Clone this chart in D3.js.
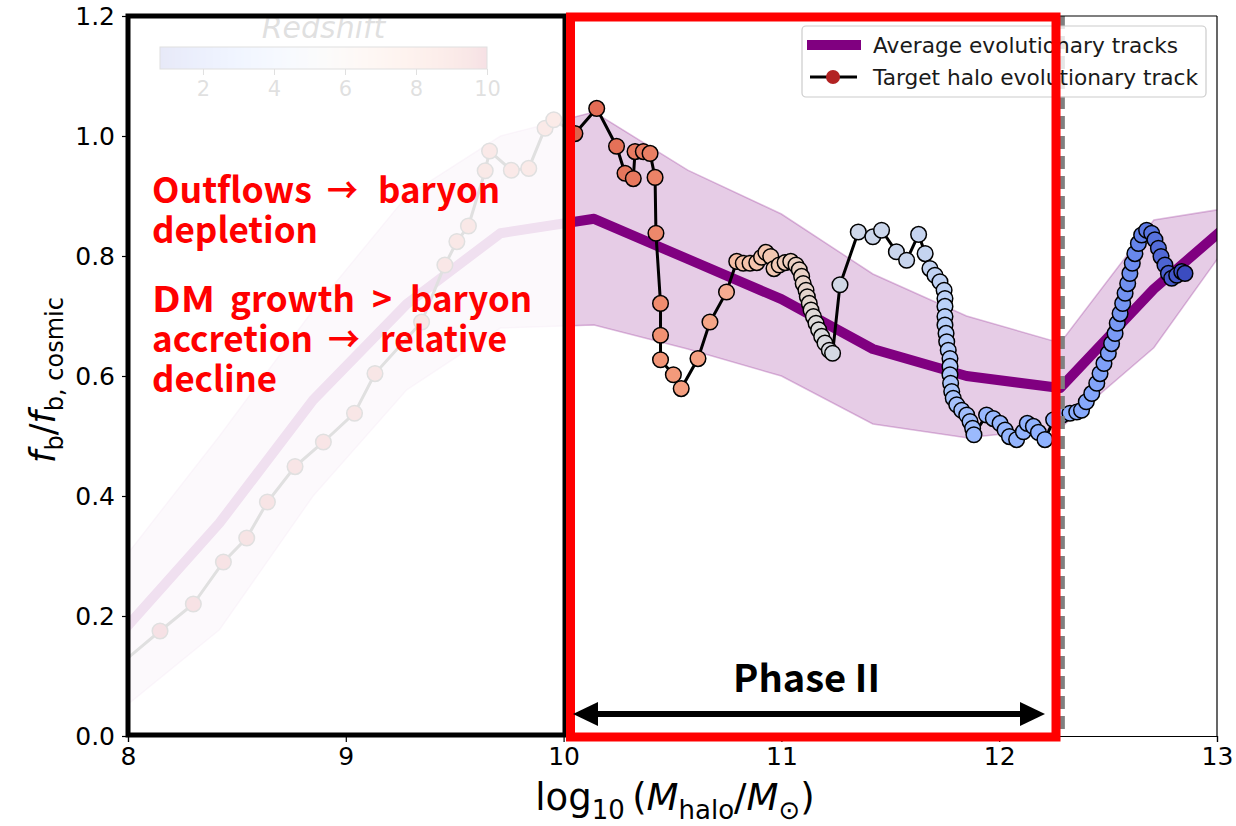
<!DOCTYPE html>
<html><head><meta charset="utf-8">
<script src="https://cdn.jsdelivr.net/npm/d3@7"></script>
<style>body{margin:0;background:#fff}svg{display:block}</style>
</head><body><svg id="c" width="1236" height="826"></svg>
<script>
// ---------- data ----------
const avgX  = [7.99, 8.42, 8.85, 9.28, 9.71, 10.14, 10.57, 11.0, 11.42, 11.85, 12.28, 12.71, 13.14];
const avgY  = [0.18, 0.355, 0.56, 0.72, 0.838, 0.862, 0.795, 0.728, 0.645, 0.60, 0.58, 0.745, 0.88];
const avgLo = [0.05, 0.177, 0.40, 0.577, 0.68, 0.685, 0.645, 0.60, 0.52, 0.497, 0.513, 0.647, 0.865];
const avgHi = [0.30, 0.50, 0.71, 0.90, 1.00, 1.04, 0.943, 0.87, 0.77, 0.70, 0.655, 0.86, 0.885];

const trackX = [
 7.95, 8.147, 8.30, 8.438, 8.545, 8.64, 8.767, 8.897, 9.04, 9.134, 9.348, 9.455, 9.51, 9.563, 9.64, 9.66, 9.76, 9.84, 9.915, 9.955,
 10.052, 10.152, 10.243, 10.282, 10.32, 10.328, 10.366, 10.397, 10.42, 10.424, 10.445, 10.445, 10.445, 10.504, 10.54, 10.617, 10.672, 10.748,
 10.795, 10.825, 10.856, 10.887, 10.909, 10.929, 10.951, 10.966, 10.99, 11.017, 11.043, 11.067, 11.082, 11.093, 11.1, 11.113, 11.119, 11.128, 11.136, 11.147, 11.159, 11.171, 11.185, 11.2, 11.22, 11.235,
 11.269, 11.353, 11.42, 11.46, 11.528, 11.575, 11.63, 11.66,
 11.682, 11.705, 11.728, 11.747, 11.751, 11.751, 11.751, 11.751, 11.756, 11.759, 11.766, 11.774, 11.774, 11.774, 11.777, 11.782, 11.789, 11.805, 11.828, 11.851, 11.866, 11.878, 11.884,
 11.942, 11.973, 12.004, 12.027, 12.047, 12.08, 12.111, 12.129, 12.157, 12.18, 12.21, 12.25, 12.29, 12.325, 12.356, 12.378,
 12.4, 12.425, 12.448, 12.463, 12.481, 12.501, 12.516, 12.532, 12.542, 12.555, 12.567, 12.578, 12.59, 12.6, 12.611, 12.623, 12.639, 12.654, 12.677, 12.7, 12.715, 12.731, 12.743, 12.761, 12.777, 12.792, 12.815, 12.838, 12.853
];
const trackY = [
 0.115, 0.175, 0.22, 0.29, 0.33, 0.39, 0.449, 0.49, 0.538, 0.604, 0.69, 0.785, 0.824, 0.85, 0.942, 0.975, 0.943, 0.946, 1.013, 1.027,
 1.004, 1.046, 0.983, 0.938, 0.929, 0.974, 0.974, 0.971, 0.931, 0.838, 0.721, 0.668, 0.627, 0.602, 0.579, 0.629, 0.69, 0.74,
 0.791, 0.788, 0.788, 0.789, 0.798, 0.806, 0.799, 0.779, 0.785, 0.789, 0.791, 0.785, 0.777, 0.766, 0.754, 0.743, 0.732, 0.721, 0.71, 0.699, 0.688, 0.677, 0.666, 0.655, 0.643, 0.638,
 0.752, 0.84, 0.832, 0.843, 0.807, 0.793, 0.836, 0.804,
 0.779, 0.768, 0.757, 0.743, 0.729, 0.716, 0.699, 0.685, 0.671, 0.657, 0.643, 0.629, 0.616, 0.602, 0.588, 0.574, 0.563, 0.552, 0.543, 0.535, 0.524, 0.513, 0.502,
 0.535, 0.529, 0.521, 0.51, 0.499, 0.494, 0.507, 0.521, 0.516, 0.506, 0.494, 0.527, 0.535, 0.538, 0.54, 0.543,
 0.557, 0.571, 0.588, 0.604, 0.621, 0.638, 0.654, 0.671, 0.688, 0.704, 0.721, 0.738, 0.754, 0.771, 0.788, 0.804, 0.821, 0.835, 0.843, 0.838, 0.827, 0.813, 0.799, 0.785, 0.771, 0.763, 0.768, 0.774, 0.771
];
const trackZ = [
 10.0, 9.95, 9.9, 9.85, 9.8, 9.75, 9.7, 9.65, 9.6, 9.55, 9.5, 9.45, 9.4, 9.35, 9.3, 9.25, 9.2, 9.15, 9.1, 9.05,
 8.9, 8.7, 8.6, 8.5, 8.45, 8.4, 8.35, 8.3, 8.2, 8.1, 8.0, 7.9, 7.8, 7.7, 7.6, 7.5, 7.4, 7.2,
 6.7, 6.65, 6.6, 6.55, 6.5, 6.45, 6.4, 6.35, 6.3, 6.2, 6.1, 6.0, 5.95, 5.9, 5.85, 5.8, 5.75, 5.7, 5.6, 5.5, 5.45, 5.4, 5.3, 5.25, 5.2, 5.1,
 5.0, 4.9, 4.85, 4.8, 4.75, 4.7, 4.65, 4.6,
 4.55, 4.5, 4.45, 4.4, 4.35, 4.3, 4.25, 4.2, 4.15, 4.1, 4.05, 4.0, 3.95, 3.9, 3.85, 3.8, 3.75, 3.7, 3.65, 3.6, 3.55, 3.5, 3.45,
 3.4, 3.38, 3.35, 3.32, 3.3, 3.28, 3.25, 3.22, 3.2, 3.18, 3.15, 3.12, 3.1, 3.05, 3.0, 2.95,
 2.9, 2.85, 2.8, 2.75, 2.7, 2.65, 2.6, 2.55, 2.5, 2.45, 2.4, 2.35, 2.3, 2.25, 2.2, 2.1, 2.0, 1.9, 1.8, 1.7, 1.6, 1.5, 1.4, 1.3, 1.2, 1.1, 1.0, 0.9, 0.8
];

const xTicks = [8, 9, 10, 11, 12, 13];
const yTicks = [0.0, 0.2, 0.4, 0.6, 0.8, 1.0, 1.2];
const cbarTicks = [2, 4, 6, 8, 10];
const zDomain = [0.79, 10];
const phaseBoundary = 12.29;
const legendLabels = ["Average evolutionary tracks", "Target halo evolutionary track"];

// ---------- setup ----------
const svg = d3.select('#c');
const L = 128, R = 1217, T = 16, B = 736;
const x = d3.scaleLinear([8, 13], [L, R]);
const y = d3.scaleLinear([0, 1.2], [B, T]);
const cwStops = ["#3b4cc0","#6282ea","#8db0fe","#b8d0f9","#dddcdc","#f5c4ac","#f49a7b","#e0654f","#b40426"];
const coolwarm = d3.scaleLinear().domain(d3.range(9).map(i => i / 8)).range(cwStops).interpolate(d3.interpolateLab);
const zNorm = d3.scaleLinear(zDomain, [0, 1]).clamp(true);
const color = z => coolwarm(zNorm(z));

const defs = svg.append('defs');
defs.append('clipPath').attr('id', 'plot').append('rect')
  .attr('x', L).attr('y', T).attr('width', R - L).attr('height', B - T);
const grad = defs.append('linearGradient').attr('id', 'cbar');
d3.range(0, 1.0001, 0.05).forEach(t => grad.append('stop').attr('offset', t).attr('stop-color', coolwarm(t)));

const g = svg.append('g').attr('clip-path', 'url(#plot)');

// average band
const avg = avgX.map((v, i) => ({x: v, y: avgY[i], lo: avgLo[i], hi: avgHi[i]}));
g.append('path').datum(avg)
  .attr('d', d3.area().x(d => x(d.x)).y0(d => y(d.lo)).y1(d => y(d.hi)))
  .attr('fill', '#800080').attr('fill-opacity', 0.2);
['lo', 'hi'].forEach(k => g.append('path').datum(avg)
  .attr('d', d3.line().x(d => x(d.x)).y(d => y(d[k])))
  .attr('fill', 'none').attr('stroke', '#800080').attr('stroke-opacity', 0.25).attr('stroke-width', 1.5));
g.append('path').datum(avg)
  .attr('d', d3.line().x(d => x(d.x)).y(d => y(d.y)))
  .attr('fill', 'none').attr('stroke', '#800080').attr('stroke-width', 10).attr('stroke-linejoin', 'round');

// target track
const track = trackX.map((v, i) => ({x: v, y: trackY[i], z: trackZ[i]}));
g.append('path').datum(track)
  .attr('d', d3.line().x(d => x(d.x)).y(d => y(d.y)))
  .attr('fill', 'none').attr('stroke', '#000').attr('stroke-width', 3);
g.selectAll('circle.pt').data(track).join('circle').attr('class', 'pt')
  .attr('cx', d => x(d.x)).attr('cy', d => y(d.y)).attr('r', 7.8)
  .attr('fill', d => color(d.z)).attr('stroke', '#000').attr('stroke-width', 1.5);

// colorbar (inset)
const cb = d3.scaleLinear(zDomain, [160, 487]);
svg.append('rect').attr('x', cb(zDomain[0])).attr('y', 47).attr('width', cb(zDomain[1]) - cb(zDomain[0])).attr('height', 22)
  .attr('fill', 'url(#cbar)').attr('stroke', '#000').attr('stroke-width', 1);
const cbAxis = svg.append('g').attr('transform', 'translate(0,69)')
  .call(d3.axisBottom(cb).tickValues(cbarTicks).tickSize(6).tickPadding(6).tickFormat(d3.format('d')));
cbAxis.select('.domain').remove();
cbAxis.selectAll('text').attr('font-family', 'DejaVu Sans').attr('font-size', 21).attr('fill', '#000');
svg.append('text').attr('x', cb((zDomain[0] + zDomain[1]) / 2)).attr('y', 38).attr('text-anchor', 'middle')
  .attr('font-family', 'DejaVu Sans').attr('font-style', 'italic').attr('font-size', 30).text('Redshift');

// fading overlay over the left box
svg.append('rect').attr('x', L).attr('y', T).attr('width', 565 - L).attr('height', B - T)
  .attr('fill', '#fff').attr('fill-opacity', 0.88);

// phase boundary
svg.append('line').attr('x1', x(phaseBoundary)).attr('x2', x(phaseBoundary)).attr('y1', T).attr('y2', B)
  .attr('stroke', '#808080').attr('stroke-width', 5).attr('stroke-dasharray', '13,7');

// axes
const xa = svg.append('g').attr('transform', `translate(0,${B})`)
  .call(d3.axisBottom(x).tickValues(xTicks).tickSize(6).tickPadding(5).tickFormat(d3.format('d')));
const ya = svg.append('g').attr('transform', `translate(${L},0)`)
  .call(d3.axisLeft(y).tickValues(yTicks).tickSize(6).tickPadding(7).tickFormat(d3.format('.1f')));
[xa, ya].forEach(a => {
  a.attr('font-size', null).attr('font-family', null);
  a.selectAll('text').attr('font-family', 'DejaVu Sans').attr('font-size', 25).attr('fill', '#000');
  a.selectAll('line').attr('stroke-width', 1.2);
  a.select('.domain').attr('stroke-width', 1.2);
});
svg.append('line').attr('x1', L).attr('x2', R).attr('y1', T).attr('y2', T).attr('stroke', '#000').attr('stroke-width', 1.2);
svg.append('line').attr('x1', R).attr('x2', R).attr('y1', T).attr('y2', B).attr('stroke', '#000').attr('stroke-width', 1.2);

// axis labels
const xl = svg.append('text').attr('x', 675).attr('y', 810).attr('text-anchor', 'middle')
  .attr('font-family', 'DejaVu Sans').attr('font-size', 37);
xl.append('tspan').text('log');
xl.append('tspan').attr('font-size', 26).attr('dy', 9).text('10');
xl.append('tspan').attr('dy', -9).text('\u2009(');
xl.append('tspan').attr('font-style', 'italic').text('M');
xl.append('tspan').attr('font-size', 26).attr('dy', 9).text('halo');
xl.append('tspan').attr('dy', -9).text('/');
xl.append('tspan').attr('font-style', 'italic').text('M');
xl.append('tspan').attr('font-size', 26).attr('dy', 9).text('\u2299');
xl.append('tspan').attr('dy', -9).text(')');

const yl = svg.append('text').attr('transform', 'translate(55,380) rotate(-90)').attr('text-anchor', 'middle')
  .attr('font-family', 'DejaVu Sans').attr('font-size', 35);
yl.append('tspan').attr('font-style', 'italic').text('f');
yl.append('tspan').attr('font-size', 24).attr('dy', 8).text('b');
yl.append('tspan').attr('dy', -8).text('/');
yl.append('tspan').attr('font-style', 'italic').text('f');
yl.append('tspan').attr('font-size', 24).attr('dy', 8).text('b, cosmic');

// legend
const lg = svg.append('g');
lg.append('rect').attr('x', 802).attr('y', 26).attr('width', 404).attr('height', 71).attr('rx', 4)
  .attr('fill', '#fff').attr('fill-opacity', 0.8).attr('stroke', '#cccccc').attr('stroke-width', 1.2);
lg.append('line').attr('x1', 807).attr('x2', 861).attr('y1', 45).attr('y2', 45).attr('stroke', '#800080').attr('stroke-width', 10);
lg.append('line').attr('x1', 810).attr('x2', 857).attr('y1', 77).attr('y2', 77).attr('stroke', '#000').attr('stroke-width', 3);
lg.append('circle').attr('cx', 833).attr('cy', 77).attr('r', 7).attr('fill', '#b22222');
legendLabels.forEach((t, i) => lg.append('text').attr('x', 873).attr('y', 53 + i * 32)
  .attr('font-family', 'DejaVu Sans').attr('font-size', 21.7).attr('fill', '#1a1a1a').text(t));

// boxes
svg.append('rect').attr('x', L).attr('y', 16).attr('width', 565 - L).attr('height', 735 - 16)
  .attr('fill', 'none').attr('stroke', '#000').attr('stroke-width', 5);
svg.append('rect').attr('x', 570.5).attr('y', 17).attr('width', 1056 - 570.5).attr('height', 737 - 17)
  .attr('fill', 'none').attr('stroke', '#ff0000').attr('stroke-width', 9);

// annotations
const words = [
  [203, [["Outflows",152,312],["\u2192",327,358],["baryon",378,500]]],
  [243, [["depletion",152,318]]],
  [312, [["DM",152,215],["growth",230,355],[">",372,392],["baryon",410,532]]],
  [352, [["accretion",152,313],["\u2192",328,360],["relative",380,507]]],
  [392, [["decline",152,277]]]
];
words.forEach(([by, ws]) => ws.forEach(([t, x0, x1]) => svg.append('text')
  .attr('x', x0).attr('y', by).attr('textLength', x1 - x0).attr('lengthAdjust', 'spacingAndGlyphs')
  .attr('font-family', "'Noto Sans CJK KR', 'Noto Sans', sans-serif").attr('font-weight', 700)
  .attr('font-size', 35).attr('fill', '#ff0000').text(t)));

svg.append('text').attr('x', 733).attr('y', 692).attr('textLength', 147).attr('lengthAdjust', 'spacingAndGlyphs')
  .attr('font-family', "'Noto Sans CJK KR', 'Noto Sans', sans-serif").attr('font-weight', 700)
  .attr('font-size', 38).attr('fill', '#000').text('Phase II');

const ay = 714;
svg.append('line').attr('x1', 595).attr('x2', 1022).attr('y1', ay).attr('y2', ay).attr('stroke', '#000').attr('stroke-width', 6);
svg.append('path').attr('d', `M573,${ay} L598,${ay - 12} L598,${ay + 12} Z`).attr('fill', '#000');
svg.append('path').attr('d', `M1045,${ay} L1020,${ay - 12} L1020,${ay + 12} Z`).attr('fill', '#000');
</script></body></html>
